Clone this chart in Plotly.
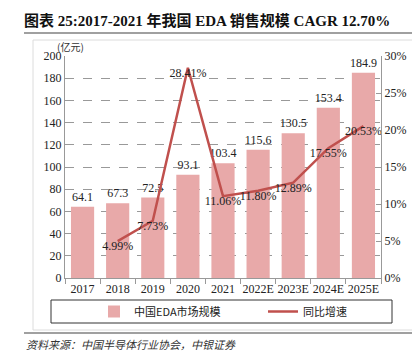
import plotly.graph_objects as go

categories = ["2017", "2018", "2019", "2020", "2021", "2022E", "2023E", "2024E", "2025E"]
market_size = [64.1, 67.3, 72.5, 93.1, 103.4, 115.6, 130.5, 153.4, 184.9]
growth_cats = ["2018", "2019", "2020", "2021", "2022E", "2023E", "2024E", "2025E"]
growth = [4.99, 7.73, 28.41, 11.06, 11.80, 12.89, 17.55, 20.53]
left_ticks = [0, 20, 40, 60, 80, 100, 120, 140, 160, 180, 200]
right_ticks = [0, 5, 10, 15, 20, 25, 30]

SERIF = "Liberation Serif, Times New Roman, Noto Sans CJK SC, serif"
CJK = "Noto Sans CJK SC, sans-serif"
BAR_C = "#E8A9A9"
LINE_C = "#C0504D"

fig = go.Figure()
fig.add_trace(go.Bar(
    x=categories, y=market_size, name="中国EDA市场规模", legend="legend",
    marker=dict(color=BAR_C, line=dict(width=0)),
    text=[f"{v:.1f}" for v in market_size], textposition="outside", constraintext="none",
    textfont=dict(family=SERIF, size=12, color="#222"), cliponaxis=False,
))
fig.add_trace(go.Scatter(
    x=growth_cats, y=growth, name="同比增速", yaxis="y2", mode="lines+text", legend="legend2",
    line=dict(color=LINE_C, width=2.5),
    text=[f"{v:.2f}%" for v in growth], textposition="bottom center",
    textfont=dict(family=SERIF, size=12, color="#222"), cliponaxis=False,
))

L, R, T, B = 57, 47, 48, 85
W, H = 420 - L - R, 355 - T - B
def px(x): return (x - L) / W
def py(y): return (355 - B - y) / H

shapes = [
    dict(type="rect", xref="paper", yref="paper", x0=px(25), x1=px(406), y0=py(322), y1=py(32),
         line=dict(color="#dcdcdc", width=1), layer="below"),
    dict(type="line", xref="paper", yref="paper", x0=px(16), x1=px(420), y0=py(25), y1=py(25),
         line=dict(color="#808080", width=1.5)),
    dict(type="line", xref="paper", yref="paper", x0=px(16), x1=px(420), y0=py(325), y1=py(325),
         line=dict(color="#808080", width=1.5)),
    dict(type="rect", xref="paper", yref="paper", x0=px(43), x1=px(384), y0=py(315), y1=py(292),
         line=dict(color="#333", width=1)),
]

leg_common = dict(orientation="h", yanchor="middle", y=py(303.5), xanchor="left",
                  font=dict(family=CJK, size=11, color="#222"), bgcolor="rgba(0,0,0,0)",
                  itemwidth=30)

fig.update_layout(
    width=420, height=355, margin=dict(l=L, r=R, t=T, b=B, autoexpand=False),
    paper_bgcolor="white", plot_bgcolor="white",
    bargap=0.34, showlegend=True, uniformtext=dict(mode=False),
    title=dict(text="<b>图表 25:2017-2021 年我国 EDA 销售规模 CAGR 12.70%</b>",
               x=16/420, xanchor="left", y=1-13/355, yanchor="middle",
               font=dict(family=SERIF, size=15, color="#111")),
    xaxis=dict(type="category", showline=True, linecolor="#999", linewidth=1,
               ticks="outside", tickson="boundaries", ticklen=5, tickcolor="#999", tickangle=0,
               tickfont=dict(family=SERIF, size=12, color="#222"), showgrid=False),
    yaxis=dict(range=[0, 200], tickvals=left_ticks, showline=True, linecolor="#999",
               showgrid=True, gridcolor="#999", griddash="dash", gridwidth=1,
               ticks="", tickfont=dict(family=SERIF, size=12, color="#222"), zeroline=False),
    yaxis2=dict(range=[0, 30], tickvals=right_ticks, ticktext=[f"{v}%" for v in right_ticks],
                overlaying="y", side="right", showline=True, linecolor="#999",
                showgrid=False, ticks="inside", ticklen=5, tickcolor="#999",
                tickfont=dict(family=SERIF, size=12, color="#222"), zeroline=False),
    legend=dict(x=px(86), **leg_common),
    legend2=dict(x=px(255), **leg_common),
    shapes=shapes,
    annotations=[
        dict(text="(亿元)", xref="paper", yref="paper", x=px(47), y=py(38), xanchor="left",
             yanchor="middle", showarrow=False, font=dict(family=CJK, size=10, color="#333")),
        dict(text="<i>资料来源：中国半导体行业协会，中银证券</i>", xref="paper", yref="paper",
             x=px(16), y=py(336), xanchor="left", yanchor="middle", showarrow=False,
             font=dict(family=CJK, size=11, color="#333")),
    ],
)

fig.write_html("out.html")
